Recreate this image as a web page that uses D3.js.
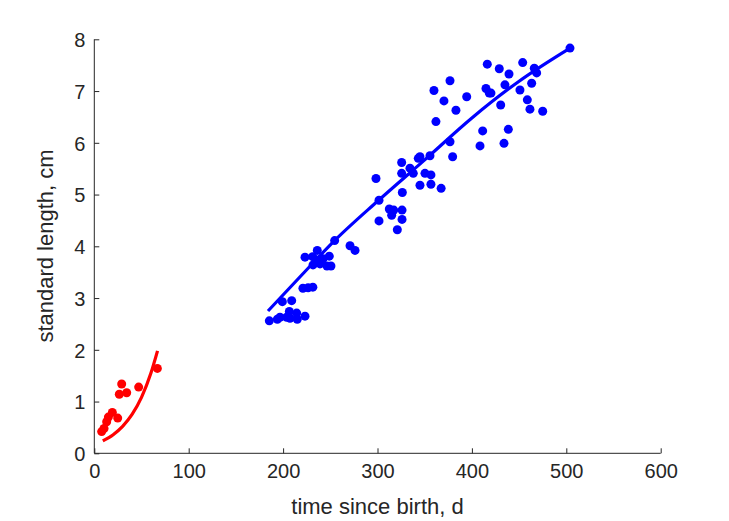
<!DOCTYPE html>
<html><head><meta charset="utf-8">
<script src="https://cdn.jsdelivr.net/npm/d3@7"></script>
<style>body{margin:0;background:#fff}svg{display:block}</style>
</head><body>
<svg id="c" width="729" height="521"></svg>
<script>
// ---- data ----
const redT = [7.8, 10.3, 13.1, 14.9, 19.1, 24.8, 26.5, 29.0, 34.3, 47.0, 66.8];
const redL = [0.42, 0.48, 0.61, 0.70, 0.79, 0.68, 1.14, 1.34, 1.17, 1.28, 1.64];
const redFitT = [9, 20, 30, 40, 50, 60, 67];
const redFitL = [0.24, 0.36, 0.52, 0.75, 1.08, 1.55, 1.98];

const blueT = [185.4, 193.9, 196.7, 203.8, 206.6, 207.3, 214.4, 215.0, 223.2, 199.2, 209.1,
  221.0, 226.5, 231.5, 223.2, 231.3, 236.2, 238.3, 248.9, 231.7, 239.1, 246.5, 250.7, 242.3,
  254.6, 270.9, 276.2, 298.4, 301.6, 301.6, 312.5, 315.0, 317.2, 321.0, 326.0, 326.0, 326.3,
  325.6, 325.6, 334.4, 337.9, 343.2, 345.0, 350.3, 356.6, 356.6, 367.4, 345.0, 355.6, 379.6,
  376.8, 361.9, 383.1, 370.4, 359.8, 376.8, 394.5, 411.4, 408.6, 414.9, 416.3, 418.4, 429.0,
  439.3, 420.2, 435.0, 430.5, 450.9, 453.8, 466.1, 468.6, 463.3, 458.7, 461.5, 475.0, 503.9,
  438.6, 434.0];
const blueL = [2.56, 2.59, 2.63, 2.63, 2.74, 2.61, 2.71, 2.59, 2.65, 2.93, 2.95,
  3.19, 3.20, 3.21, 3.79, 3.80, 3.92, 3.74, 3.81, 3.64, 3.66, 3.62, 3.62, 3.76,
  4.11, 4.01, 3.92, 5.31, 4.89, 4.49, 4.72, 4.60, 4.70, 4.32, 4.52, 4.70, 5.04,
  5.62, 5.41, 5.51, 5.41, 5.70, 5.18, 5.41, 5.20, 5.38, 5.12, 5.73, 5.75, 5.73,
  6.02, 6.41, 6.63, 6.81, 7.01, 7.20, 6.89, 6.23, 5.94, 7.05, 7.52, 6.96, 7.43,
  7.33, 6.96, 7.12, 6.73, 7.02, 7.55, 7.44, 7.35, 7.15, 6.83, 6.65, 6.61, 7.83,
  6.26, 5.99];
const blueFitT = [184, 220, 254, 300, 350, 400, 450, 504];
const blueFitL = [2.75, 3.45, 4.10, 4.87, 5.67, 6.48, 7.19, 7.83];

const xTicks = [0, 100, 200, 300, 400, 500, 600];
const yTicks = [0, 1, 2, 3, 4, 5, 6, 7, 8];
const xLabel = "time since birth, d";
const yLabel = "standard length, cm";

// ---- drawing ----
const svg = d3.select("#c");
const axisCol = "#262626";
const font = "'Liberation Sans', Arial, Helvetica, sans-serif";
const x = d3.scaleLinear().domain([0, 600]).range([94.3, 660.7]);
const y = d3.scaleLinear().domain([0, 8]).range([453.3, 39.3]);

const xAxis = d3.axisBottom(x).tickValues(xTicks).tickSize(-5).tickPadding(10).tickFormat(d3.format("d"));
const yAxis = d3.axisLeft(y).tickValues(yTicks).tickSize(-5).tickPadding(9).tickFormat(d3.format("d"));

const gx = svg.append("g").attr("transform", `translate(0,${y(0)})`).call(xAxis);
const gy = svg.append("g").attr("transform", `translate(${x(0)},0)`).call(yAxis);
[gx, gy].forEach(g => {
  g.select(".domain").attr("stroke", axisCol).attr("stroke-width", 1).attr("d",
    g === gx ? `M${x(0)},0H${x(600)}` : `M0,${y(0)}V${y(8)}`);
  g.selectAll(".tick line").attr("stroke", axisCol).attr("stroke-width", 1);
  g.selectAll(".tick text").attr("fill", axisCol).style("font-family", font).style("font-size", "20px");
});
gx.selectAll(".tick text").attr("dy", "0.72em");
gy.selectAll(".tick text").attr("dy", "0.36em");

svg.append("text").attr("x", 377.5).attr("y", 514).attr("text-anchor", "middle")
  .attr("fill", axisCol).style("font-family", font).style("font-size", "22px").text(xLabel);
svg.append("text").attr("transform", "translate(53,246) rotate(-90)").attr("text-anchor", "middle")
  .attr("fill", axisCol).style("font-family", font).style("font-size", "22px").text(yLabel);

const line = d3.line().x(d => x(d[0])).y(d => y(d[1])).curve(d3.curveMonotoneX);

function series(T, L, FT, FL, col) {
  svg.append("g").selectAll("circle").data(T.map((t, i) => [t, L[i]])).join("circle")
    .attr("cx", d => x(d[0])).attr("cy", d => y(d[1])).attr("r", 4.5).attr("fill", col);
  svg.append("path").datum(FT.map((t, i) => [t, FL[i]])).attr("d", line)
    .attr("fill", "none").attr("stroke", col).attr("stroke-width", 3.2);
}
series(redT, redL, redFitT, redFitL, "#ff0000");
series(blueT, blueL, blueFitT, blueFitL, "#0000ff");
</script>
</body></html>
